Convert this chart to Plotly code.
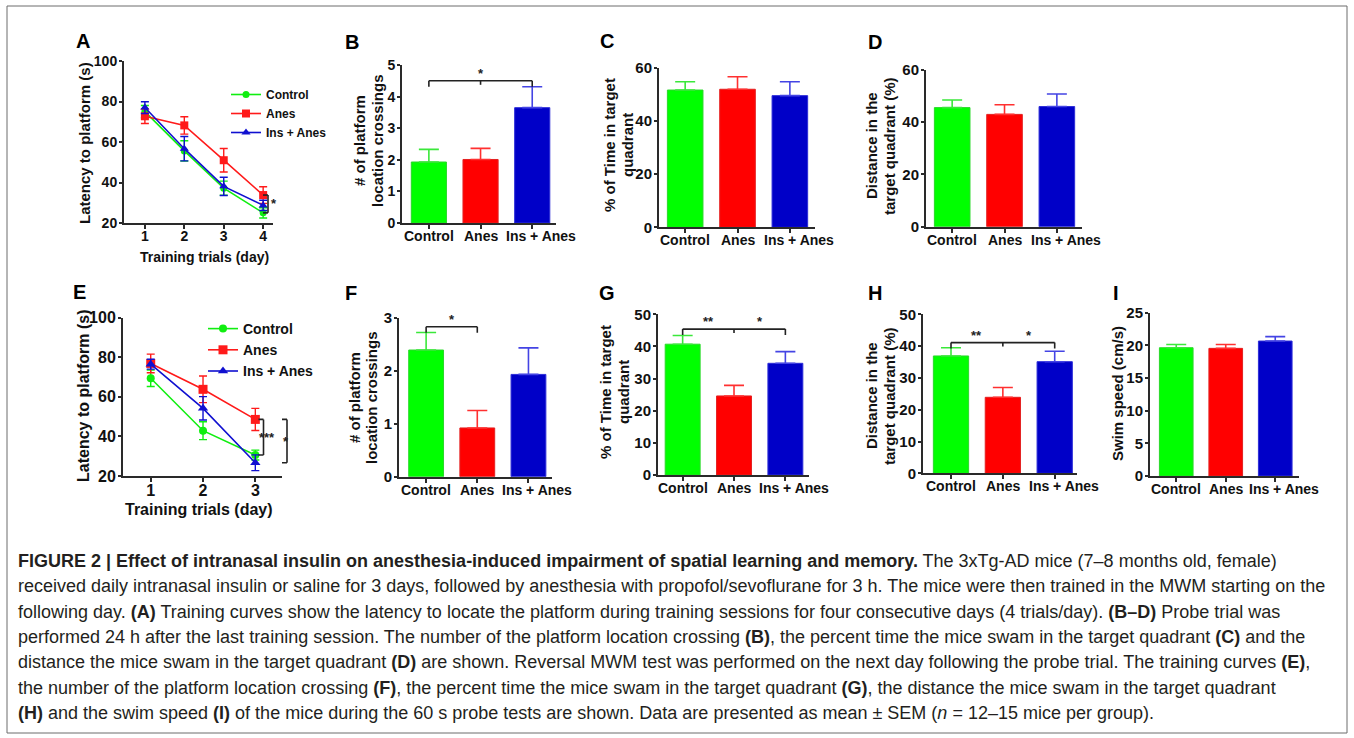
import plotly.graph_objects as go

W, H = 1354, 738

# ---------------- data ----------------
groups = ["Control", "Anes", "Ins + Anes"]

# Panel A: training latency (4 days)
days_A = [1, 2, 3, 4]
A_control = [75.0, 55.6, 37.2, 25.0]
A_control_err = [3.0, 5.0, 3.5, 2.5]
A_anes = [72.7, 68.2, 51.0, 33.8]
A_anes_err = [3.6, 4.3, 5.8, 4.1]
A_ins = [77.0, 56.7, 38.1, 28.7]
A_ins_err = [2.9, 6.0, 4.5, 2.5]

# Panel E: reversal training latency (3 days)
days_E = [1, 2, 3]
E_control = [69.4, 42.9, 30.6]
E_control_err = [4.2, 4.5, 2.5]
E_anes = [76.9, 63.8, 48.6]
E_anes_err = [4.7, 6.7, 5.6]
E_ins = [76.5, 54.2, 26.7]
E_ins_err = [2.5, 5.9, 4.0]

# Bar panels (Control, Anes, Ins + Anes)
B_mean = [1.93, 2.01, 3.65]
B_err = [0.40, 0.35, 0.66]
C_mean = [51.6, 51.9, 49.5]
C_err = [3.1, 4.7, 5.2]
D_mean = [45.6, 43.0, 46.0]
D_err = [2.9, 3.7, 4.8]
F_mean = [2.39, 0.92, 1.93]
F_err = [0.33, 0.33, 0.50]
G_mean = [40.7, 24.6, 34.75]
G_err = [2.7, 3.3, 3.65]
H_mean = [36.9, 23.9, 35.1]
H_err = [2.6, 3.1, 3.3]
I_mean = [19.64, 19.54, 20.66]
I_err = [0.5, 0.6, 0.67]

# significance brackets for bar panels: (from, to, level, middle ticks, labels)
B_sig = (0, 2, 4.5, [1], [(1, "*")])
F_sig = (0, 1, 2.83, [], [(0.5, "*")])
G_sig = (0, 2, 45.4, [1], [(0.5, "**"), (1.5, "*")])
H_sig = (0, 2, 41.1, [1], [(0.5, "**"), (1.5, "*")])

caption_lines = [
    "<b>FIGURE 2 | Effect of intranasal insulin on anesthesia-induced impairment of spatial learning and memory.</b> The 3xTg-AD mice (7–8 months old, female)",
    "received daily intranasal insulin or saline for 3 days, followed by anesthesia with propofol/sevoflurane for 3 h. The mice were then trained in the MWM starting on the",
    "following day. <b>(A)</b> Training curves show the latency to locate the platform during training sessions for four consecutive days (4 trials/day). <b>(B–D)</b> Probe trial was",
    "performed 24 h after the last training session. The number of the platform location crossing <b>(B)</b>, the percent time the mice swam in the target quadrant <b>(C)</b> and the",
    "distance the mice swam in the target quadrant <b>(D)</b> are shown. Reversal MWM test was performed on the next day following the probe trial. The training curves <b>(E)</b>,",
    "the number of the platform location crossing <b>(F)</b>, the percent time the mice swam in the target quadrant <b>(G)</b>, the distance the mice swam in the target quadrant",
    "<b>(H)</b> and the swim speed <b>(I)</b> of the mice during the 60 s probe tests are shown. Data are presented as mean ± SEM (<i>n</i> = 12–15 mice per group).",
]

# ---------------- style ----------------
colors = ["#00ff00", "#ff0000", "#0000c8"]
edge_colors = ["#2ad82a", "#e42020", "#2c2cd8"]
err_colors = ["#3ae83a", "#ff3030", "#4444e4"]
line_colors = ["#10ee10", "#ff1a1a", "#1010d0"]
symbols = ["circle", "square", "triangle-up"]
FONT = "Liberation Sans, Arial, sans-serif"
AXC = "#2a2a2a"
label_xshift = [0, 0, 9]  # third category label sits a little right of its tick in the original


def px(x):
    return x / W


def py(y):
    return 1 - y / H


fig = go.Figure()

# panel layout
panels = {
    "A": dict(ax="", xp=(124, 273), yp=(61, 223), yr=[20, 100], dt=20, xr=[0.47, 4.25], tf=14, xf=14),
    "B": dict(ax="2", xp=(402, 556), yp=(65, 223), yr=[0, 5], dt=1, xr=[-0.52, 2.46], tf=14, xf=14),
    "C": dict(ax="3", xp=(659, 815), yp=(67.7, 227.3), yr=[0, 60], dt=20, xr=[-0.50, 2.48], tf=15, xf=14),
    "D": dict(ax="4", xp=(926, 1082), yp=(70, 226.7), yr=[0, 60], dt=20, xr=[-0.50, 2.48], tf=15, xf=14),
    "E": dict(ax="5", xp=(123, 282), yp=(317.7, 476), yr=[20, 100], dt=20, xr=[0.47, 3.51], tf=16, xf=16),
    "F": dict(ax="6", xp=(399, 552), yp=(317.7, 476.7), yr=[0, 3], dt=1, xr=[-0.53, 2.46], tf=15, xf=14),
    "G": dict(ax="7", xp=(658, 809), yp=(314.3, 475), yr=[0, 50], dt=10, xr=[-0.48, 2.46], tf=15, xf=14),
    "H": dict(ax="8", xp=(923, 1077), yp=(314.3, 473.3), yr=[0, 50], dt=10, xr=[-0.54, 2.43], tf=15, xf=14),
    "I": dict(ax="9", xp=(1150, 1299), yp=(312.7, 476), yr=[0, 25], dt=5, xr=[-0.53, 2.48], tf=15, xf=14),
}

annotations = []
layout_axes = {}
for key, p in panels.items():
    a = p["ax"]
    is_line = key in ("A", "E")
    xa = dict(
        domain=[px(p["xp"][0]), px(p["xp"][1])], range=p["xr"], anchor="y" + a,
        showline=True, linecolor=AXC, linewidth=2, ticks="outside", ticklen=4,
        tickwidth=2, tickcolor=AXC, showgrid=False, zeroline=False, fixedrange=True,
        tickangle=0, automargin=False, ticklabelstandoff=-5,
        tickfont=dict(family=FONT, size=p["xf"], color="#111", weight="bold"),
    )
    if is_line:
        xa.update(tickmode="array", tickvals=days_A if key == "A" else days_E)
    else:
        xa.update(tickmode="array", tickvals=[0, 1, 2], showticklabels=False)
        for i, g in enumerate(groups):
            annotations.append(dict(xref="x" + a, yref="y" + a + " domain", x=i, y=0, text=g,
                                    showarrow=False, xanchor="center", yanchor="top",
                                    xshift=label_xshift[i], yshift=-3,
                                    font=dict(family=FONT, size=p["xf"], color="#111", weight="bold")))
    ya = dict(
        domain=[py(p["yp"][1]), py(p["yp"][0])], range=p["yr"], anchor="x" + a,
        tick0=p["yr"][0], dtick=p["dt"],
        showline=True, linecolor=AXC, linewidth=2, ticks="outside", ticklen=3,
        tickwidth=2, tickcolor=AXC, showgrid=False, zeroline=False, fixedrange=True,
        automargin=False, ticklabelstandoff=-1,
        tickfont=dict(family=FONT, size=p["tf"], color="#111", weight="bold"),
    )
    layout_axes["xaxis" + a] = xa
    layout_axes["yaxis" + a] = ya

# ---------------- line panels ----------------
line_sets = {
    "A": (days_A, [(A_control, A_control_err), (A_anes, A_anes_err), (A_ins, A_ins_err)], "legend", 8),
    "E": (days_E, [(E_control, E_control_err), (E_anes, E_anes_err), (E_ins, E_ins_err)], "legend2", 9),
}
for key, (days, series, leg, msize) in line_sets.items():
    a = panels[key]["ax"]
    for i, (mean, err) in enumerate(series):
        fig.add_trace(go.Scatter(
            x=days, y=mean, name=groups[i], mode="lines+markers",
            line=dict(color=line_colors[i], width=1.6),
            marker=dict(symbol=symbols[i], size=msize if i else msize - 1, color=line_colors[i]),
            error_y=dict(type="data", array=err, color=line_colors[i], thickness=1.4, width=4),
            xaxis="x" + a, yaxis="y" + a, legend=leg, cliponaxis=False,
        ))

# ---------------- bar panels ----------------
bar_sets = {
    "B": (B_mean, B_err), "C": (C_mean, C_err), "D": (D_mean, D_err),
    "F": (F_mean, F_err), "G": (G_mean, G_err), "H": (H_mean, H_err), "I": (I_mean, I_err),
}
for key, (means, errs) in bar_sets.items():
    a = panels[key]["ax"]
    for i in range(3):
        fig.add_trace(go.Bar(
            x=[i], y=[means[i]], width=0.68,
            marker=dict(color=colors[i], line=dict(color=edge_colors[i], width=1)),
            error_y=dict(type="data", array=[errs[i]], arrayminus=[0], symmetric=False,
                         color=err_colors[i], thickness=1.6, width=10),
            xaxis="x" + a, yaxis="y" + a, showlegend=False, name=groups[i],
        ))

shapes = []

# significance brackets on bar panels
for key, sig in (("B", B_sig), ("F", F_sig), ("G", G_sig), ("H", H_sig)):
    a = panels[key]["ax"]
    x0, x1, lvl, mids, labels = sig
    ln = dict(color="#222", width=1.6)
    shapes.append(dict(type="line", xref="x" + a, yref="y" + a, x0=x0, x1=x1, y0=lvl, y1=lvl, line=ln))
    for xe in (x0, x1):
        shapes.append(dict(type="line", xref="x" + a, yref="y" + a, ysizemode="pixel", yanchor=lvl,
                           x0=xe, x1=xe, y0=0, y1=-6, line=ln))
    for xm in mids:
        shapes.append(dict(type="line", xref="x" + a, yref="y" + a, ysizemode="pixel", yanchor=lvl,
                           x0=xm, x1=xm, y0=0, y1=-4, line=ln))
    for xl, txt in labels:
        annotations.append(dict(xref="x" + a, yref="y" + a, x=xl, y=lvl, text=txt, showarrow=False,
                                yanchor="bottom", yshift=-2, font=dict(family=FONT, size=13, color="#222", weight="bold")))

# significance brackets on line panels (to the right of the last day)
line_brackets = [
    ("A", A_anes[-1], A_control[-1], -5, 6, "*"),
    ("E", E_anes[-1], E_control[-1], -18.5, -5, "***"),
    ("E", E_anes[-1], E_ins[-1], 5, 9, "*"),
]
for key, ytop, ybot, off, toff, txt in line_brackets:
    a = panels[key]["ax"]
    ln = dict(color="#222", width=1.6)
    base = dict(type="line", xref="x" + a + " domain", yref="y" + a, xsizemode="pixel", xanchor=1, line=ln)
    shapes.append(dict(base, x0=off, x1=off, y0=ytop, y1=ybot))
    shapes.append(dict(base, x0=off - 5, x1=off, y0=ytop, y1=ytop))
    shapes.append(dict(base, x0=off - 5, x1=off, y0=ybot, y1=ybot))
    annotations.append(dict(xref="x" + a + " domain", yref="y" + a, x=1, xshift=toff, y=(ytop + ybot) / 2,
                            text=txt, showarrow=False, font=dict(family=FONT, size=13, color="#222", weight="bold")))

# panel letters
letters = {"A": (83, 41), "B": (352, 42), "C": (607, 41), "D": (875, 42),
           "E": (79, 292), "F": (351, 293), "G": (607, 293), "H": (875, 293), "I": (1116, 293)}
for k, (lx, ly) in letters.items():
    annotations.append(dict(xref="paper", yref="paper", x=px(lx), y=py(ly), text=k, showarrow=False,
                            xanchor="center", yanchor="middle",
                            font=dict(family=FONT, size=20, color="#000", weight="bold")))

# y-axis titles (vertical)
ytitles = [
    ("Latency to platform (s)", 84, 143, 15),
    ("# of platform", 359, 141, 15), ("location crossings", 377, 141, 15),
    ("% of Time in target", 609, 145, 15), ("quadrant", 627, 145, 15),
    ("Distance in the", 872, 146, 15), ("target quadrant (%)", 890, 146, 15),
    ("Latency to platform (s)", 83, 396, 16),
    ("# of platform", 354, 398, 15), ("location crossings", 371, 398, 15),
    ("% of Time in target", 605, 392, 15), ("quadrant", 623, 392, 15),
    ("Distance in the", 871, 396, 15), ("target quadrant (%)", 889, 396, 15),
    ("Swim speed (cm/s)", 1117, 394, 15),
]
for txt, tx, ty, fs in ytitles:
    annotations.append(dict(xref="paper", yref="paper", x=px(tx), y=py(ty), text=txt, showarrow=False,
                            textangle=-90, xanchor="center", yanchor="middle",
                            font=dict(family=FONT, size=fs, color="#111", weight="bold")))

# x-axis titles for line panels
for txt, tx, ty, fs in [("Training trials (day)", 205, 257, 14), ("Training trials (day)", 199, 509, 16)]:
    annotations.append(dict(xref="paper", yref="paper", x=px(tx), y=py(ty), text=txt, showarrow=False,
                            xanchor="center", yanchor="middle",
                            font=dict(family=FONT, size=fs, color="#111", weight="bold")))

# caption
for i, line in enumerate(caption_lines):
    annotations.append(dict(xref="paper", yref="paper", x=px(16), y=py(561 + i * 25.3), text=line,
                            showarrow=False, xanchor="left", yanchor="middle", align="left",
                            font=dict(family=FONT, size=18, color="#231f20")))

# frame
shapes.append(dict(type="rect", xref="paper", yref="paper", x0=px(7), x1=px(1347), y0=py(733), y1=py(6),
                   line=dict(color="#6d6d6d", width=1), layer="below"))

fig.update_layout(
    width=W, height=H, autosize=False,
    margin=dict(l=0, r=0, t=0, b=0, pad=0, autoexpand=False),
    paper_bgcolor="white", plot_bgcolor="white", barmode="overlay",
    shapes=shapes, annotations=annotations,
    legend=dict(x=px(226), y=py(80), xanchor="left", yanchor="top", bgcolor="rgba(0,0,0,0)",
                font=dict(family=FONT, size=12, color="#111", weight="bold"), itemwidth=30,
                tracegroupgap=0),
    legend2=dict(x=px(203), y=py(313), xanchor="left", yanchor="top", bgcolor="rgba(0,0,0,0)",
                 font=dict(family=FONT, size=14, color="#111", weight="bold"), itemwidth=30,
                 tracegroupgap=0),
    **layout_axes,
)

fig.write_html("out.html", config={"displayModeBar": False},
               post_script="document.body.style.margin='0';")
